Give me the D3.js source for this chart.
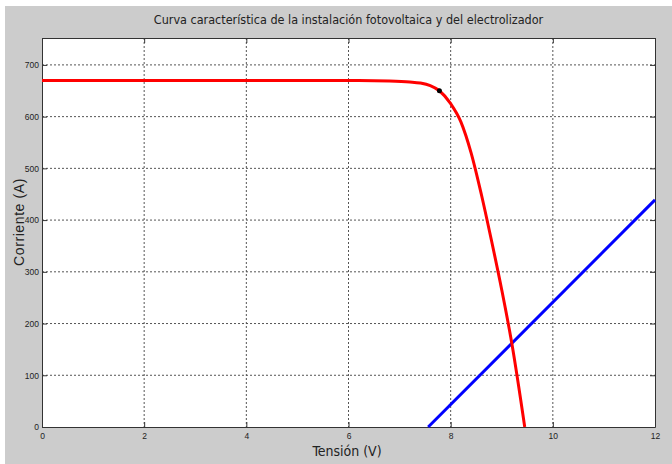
<!DOCTYPE html>
<html>
<head>
<meta charset="utf-8">
<script src="https://cdn.jsdelivr.net/npm/d3@7"></script>
<style>
  body { margin: 0; background: #fff; }
  svg text { fill: #222; }
</style>
</head>
<body>
<svg id="chart" width="672" height="464"></svg>
<script>
// curva I-V de la instalacion fotovoltaica (V, A)
const pvVoltage = [0, 6.2, 6.8, 7.2, 7.4, 7.6, 7.78, 8.0, 8.2, 8.4, 8.6, 8.8, 9.0, 9.2, 9.45];
const pvCurrent = [670, 670, 669, 667, 665, 660, 650, 625, 590, 530, 450, 360, 265, 160, 0];
// recta del electrolizador
const elVoltage = [7.56, 12];
const elCurrent = [0, 439];
// punto de maxima potencia
const mppPoint = [7.78, 650];

const xTicks = [0, 2, 4, 6, 8, 10, 12];
const yTicks = [0, 100, 200, 300, 400, 500, 600, 700];

const svg = d3.select('#chart');
const margin = {left: 42, top: 38, right: 17, bottom: 37};
const width = 672 - margin.left - margin.right;
const height = 464 - margin.top - margin.bottom;

// fondo gris estilo matlab
svg.append('rect')
   .attr('x', 5).attr('y', 6)
   .attr('width', 667).attr('height', 458)
   .attr('fill', '#cccccc');

const x = d3.scaleLinear().domain([0, 12]).range([0, width]);
const y = d3.scaleLinear().domain([0, 752]).range([height, 0]);

const g = svg.append('g').attr('transform', `translate(${margin.left},${margin.top})`);

g.append('rect')
 .attr('width', width).attr('height', height)
 .attr('fill', '#fff');

// rejilla
g.selectAll('.gx')
 .data(xTicks.slice(1, -1))
 .enter().append('line')
 .attr('x1', d => x(d)).attr('x2', d => x(d))
 .attr('y1', 0).attr('y2', height)
 .attr('stroke', '#555').attr('stroke-width', 1)
 .attr('stroke-dasharray', '2,2');

g.selectAll('.gy')
 .data(yTicks.slice(1))
 .enter().append('line')
 .attr('x1', 0).attr('x2', width)
 .attr('y1', d => y(d)).attr('y2', d => y(d))
 .attr('stroke', '#555').attr('stroke-width', 1)
 .attr('stroke-dasharray', '2,2');

// ejes
const tickFont = '"Liberation Sans Narrow", "Liberation Sans", sans-serif';

g.append('g')
  .attr('transform', `translate(0,${height})`)
  .call(d3.axisBottom(x).tickValues(xTicks).tickSizeInner(-5).tickSizeOuter(0).tickPadding(6));
g.append('g')
  .call(d3.axisLeft(y).tickValues(yTicks).tickSizeInner(-5).tickSizeOuter(0).tickPadding(3));
g.append('g')
  .attr('transform', `translate(${width},0)`)
  .call(d3.axisRight(y).tickValues(yTicks).tickSizeInner(-5).tickSizeOuter(0).tickFormat(''));
g.append('g')
  .call(d3.axisTop(x).tickValues(xTicks).tickSizeInner(-5).tickSizeOuter(0).tickFormat(''));

g.selectAll('.domain').attr('stroke', '#333');
g.selectAll('.tick line').attr('stroke', '#333');
g.selectAll('.tick text')
 .style('font-family', tickFont)
 .style('font-size', '8.5px')
 .attr('fill', '#333');

// curvas
const line = d3.line()
  .x(d => x(d[0]))
  .y(d => y(d[1]))
  .curve(d3.curveMonotoneX);

g.append('path')
 .datum(d3.zip(elVoltage, elCurrent))
 .attr('d', line)
 .attr('fill', 'none')
 .attr('stroke', '#0000ff')
 .attr('stroke-width', 3);

g.append('path')
 .datum(d3.zip(pvVoltage, pvCurrent))
 .attr('d', line)
 .attr('fill', 'none')
 .attr('stroke', '#ff0000')
 .attr('stroke-width', 3);

g.append('circle')
 .attr('cx', x(mppPoint[0])).attr('cy', y(mppPoint[1]))
 .attr('r', 2.5)
 .attr('fill', '#000');

// textos
svg.append('text')
   .attr('x', margin.left + width / 2).attr('y', 24)
   .attr('text-anchor', 'middle')
   .style('font-family', '"DejaVu Sans Condensed", "DejaVu Sans", sans-serif')
   .style('font-size', '12.5px')
   .text('Curva característica de la instalación fotovoltaica y del electrolizador');

svg.append('text')
   .attr('x', 347).attr('y', 456)
   .attr('text-anchor', 'middle')
   .style('font-family', '"DejaVu Sans Condensed", "DejaVu Sans", sans-serif')
   .style('font-size', '14px')
   .text('Tensión (V)');

svg.append('text')
   .attr('transform', 'translate(24,222) rotate(-90)')
   .attr('text-anchor', 'middle')
   .style('font-family', '"Liberation Sans", Arial, sans-serif')
   .style('font-size', '14px')
   .style('letter-spacing', '0.6px')
   .text('Corriente (A)');
</script>
</body>
</html>
